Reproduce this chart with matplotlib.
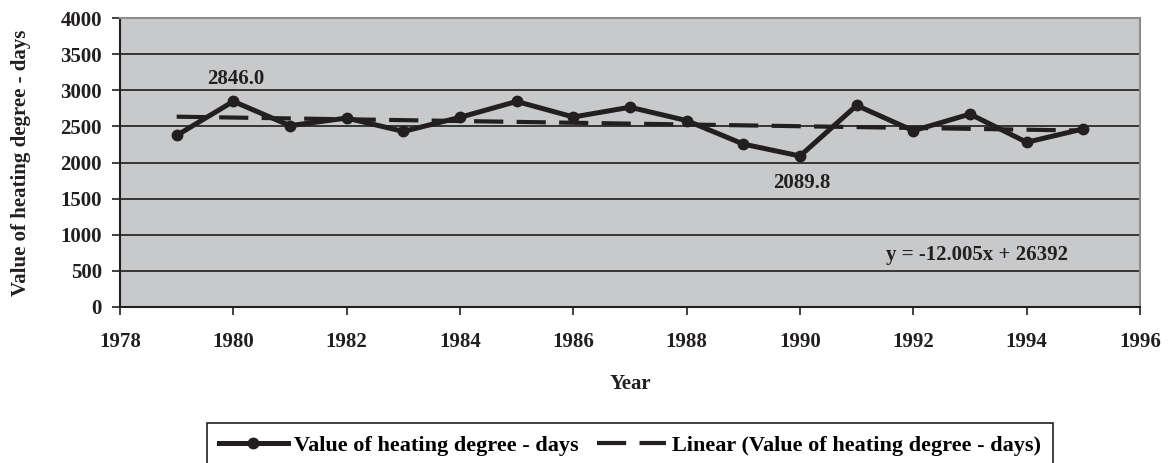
import matplotlib
matplotlib.use("Agg")
import matplotlib.pyplot as plt
import numpy as np

years = [1979, 1980, 1981, 1982, 1983, 1984, 1985, 1986, 1987,
         1988, 1989, 1990, 1991, 1992, 1993, 1994, 1995]
hdd = [2375, 2846.0, 2510, 2615, 2430, 2625, 2845, 2630, 2765,
       2580, 2255, 2089.8, 2790, 2440, 2670, 2280, 2465]
trend_slope = -12.005
trend_intercept = 26392
series_label = "Value of heating degree - days"
trend_label = "Linear (Value of heating degree - days)"
equation_text = "y = -12.005x + 26392"
x_ticks = list(range(1978, 1997, 2))
y_ticks = list(range(0, 4001, 500))

plt.rcParams['font.family'] = ['Liberation Serif', 'DejaVu Serif']
plt.rcParams['font.weight'] = 'bold'
FS = 15
ink = '#231f20'

fig = plt.figure(figsize=(11.68, 4.63), dpi=100)
ax = fig.add_axes([120/1168, 1-307/463, (1140-120)/1168, (307-18)/463])
ax.set_facecolor('#c8c9cb')

x = np.array(years, dtype=float)
trend = trend_slope * x + trend_intercept

ax.set_axisbelow(True)
ax.yaxis.grid(True, color='#2a2a2a', lw=1.3)
ax.plot(x, trend, color=ink, lw=3.0, dashes=(7, 3.2), label=trend_label, zorder=3)
ax.plot(x, hdd, color=ink, lw=3.6, marker='o', ms=7.5, label=series_label, zorder=4)

ax.set_xlim(1978, 1996)
ax.set_ylim(0, 4000)
ax.set_xticks(x_ticks)
ax.set_yticks(y_ticks)
ax.tick_params(axis='both', direction='out', length=6, width=1.2, color=ink,
               labelsize=FS, labelcolor=ink)
ax.tick_params(axis='y', pad=7)
ax.tick_params(axis='x', pad=12)
for lab in ax.get_xticklabels() + ax.get_yticklabels():
    lab.set_fontweight('bold')

for s in ['left', 'bottom']:
    ax.spines[s].set_color(ink)
    ax.spines[s].set_linewidth(1.5)
for s in ['top', 'right']:
    ax.spines[s].set_color('#8c8c8c')
    ax.spines[s].set_linewidth(1.5)

ax.set_xlabel("Year", fontsize=FS, fontweight='bold', color=ink, labelpad=16)
ax.set_ylabel("Value of heating degree - days", fontsize=FS, fontweight='bold',
              color=ink, labelpad=21)

i_max = int(np.argmax(hdd))
i_min = int(np.argmin(hdd))
ax.text(years[i_max] + 0.04, 3160, f"{hdd[i_max]:.1f}", ha='center', va='center',
        fontsize=FS, fontweight='bold', color=ink)
ax.text(years[i_min] + 0.03, 1720, f"{hdd[i_min]:.1f}", ha='center', va='center',
        fontsize=FS, fontweight='bold', color=ink)
ax.text(1993.12, 720, equation_text, ha='center', va='center',
        fontsize=FS, fontweight='bold', color=ink)

h, l = ax.get_legend_handles_labels()
leg = fig.legend([h[1], h[0]], [l[1], l[0]], ncol=2, loc='upper center',
                 bbox_to_anchor=(630/1168, 1-423/463), borderaxespad=0,
                 fancybox=False, edgecolor=ink, framealpha=1, handlelength=3.1,
                 columnspacing=0.8, handletextpad=0.3, borderpad=0.55,
                 prop={'size': 16, 'weight': 'bold'})
leg.get_frame().set_linewidth(1.2)

fig.savefig("out.png", dpi=100)
